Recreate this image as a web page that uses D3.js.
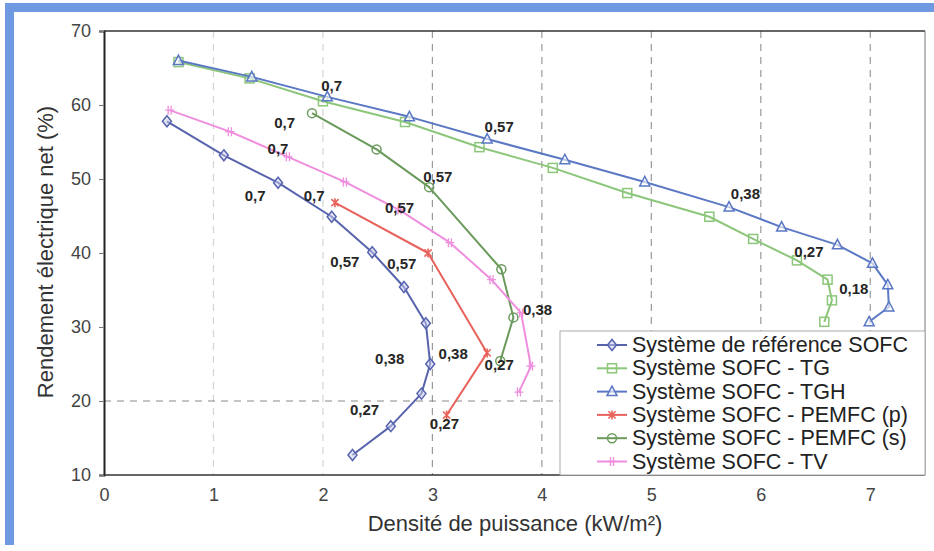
<!DOCTYPE html>
<html><head><meta charset="utf-8">
<script src="https://cdn.jsdelivr.net/npm/d3@7"></script>
<style>
html,body{margin:0;padding:0;background:#fff;}
svg{display:block;font-family:"Liberation Sans",Arial,sans-serif;}
</style></head>
<body>
<svg id="chart" width="934" height="551"></svg>
<script>
// ---- data ----
const xTicks = [0,1,2,3,4,5,6,7];
const yTicks = [10,20,30,40,50,60,70];
const seriesNames = ["Système de référence SOFC","Système SOFC - TG","Système SOFC - TGH","Système SOFC - PEMFC (p)","Système SOFC - PEMFC (s)","Système SOFC - TV"];
const refData = [[0.575,57.8],[1.095,53.2],[1.59,49.5],[2.08,44.9],[2.45,40.1],[2.74,35.4],[2.94,30.5],[2.98,25.0],[2.90,21.0],[2.62,16.6],[2.27,12.7]];
const tgData = [[0.68,65.8],[1.33,63.6],[2.00,60.5],[2.75,57.7],[3.43,54.3],[4.10,51.5],[4.78,48.1],[5.53,44.9],[5.93,41.9],[6.33,39.0],[6.61,36.4],[6.65,33.6],[6.58,30.7]];
const tghData = [[0.68,66.0],[1.35,63.8],[2.04,61.1],[2.79,58.4],[3.50,55.4],[4.21,52.6],[4.94,49.6],[5.71,46.2],[6.19,43.5],[6.70,41.1],[7.02,38.6],[7.16,35.7],[7.17,32.7],[6.99,30.7]];
const pemfcPData = [[2.11,46.8],[2.96,40.0],[3.50,26.5],[3.13,18.1]];
const pemfcSData = [[1.90,58.9],[2.49,54.0],[2.97,48.9],[3.63,37.8],[3.74,31.3],[3.62,25.4]];
const tvData = [[0.60,59.3],[1.15,56.4],[1.68,53.0],[2.20,49.6],[2.70,45.8],[3.16,41.4],[3.54,36.4],[3.81,31.9],[3.90,24.7],[3.79,21.2]];
const annotations = [
  ["0,7",2.08,62.7],["0,7",1.65,57.7],["0,7",1.59,54.15],["0,7",1.38,47.8],["0,7",1.92,47.8],
  ["0,57",3.61,57.1],["0,57",3.05,50.4],["0,57",2.70,46.1],["0,57",2.20,38.8],["0,57",2.72,38.6],
  ["0,38",5.86,48.1],["0,38",2.61,25.8],["0,38",3.19,26.45],["0,38",3.96,32.4],
  ["0,27",6.44,40.2],["0,27",2.38,18.8],["0,27",3.61,24.9],["0,27",3.11,17.0],
  ["0,18",6.85,35.2]
];
const refLineY = 20;

// ---- styling ----
const seriesData = [refData,tgData,tghData,pemfcPData,pemfcSData,tvData];
const colors = ["#5763ad","#8cc67a","#5b78c4","#e8625c","#6a9a5c","#f08ede"];
const markers = ["diamond","square","triangle","asterisk","circle","plus"];

const svg = d3.select("#chart");
const W = 934, H = 551;
const L = 104, R = 925, T = 31, B = 475;

// blue frame
svg.append("rect").attr("x",5).attr("y",3).attr("width",W).attr("height",9).attr("fill","#6f9ae2");
svg.append("rect").attr("x",5).attr("y",3).attr("width",9).attr("height",542).attr("fill","#6f9ae2");

const x = d3.scaleLinear().domain([0,7.5]).range([L,R]);
const y = d3.scaleLinear().domain([10,70]).range([B,T]);

// vertical dashed gridlines
svg.append("g").selectAll("line").data(xTicks.filter(d=>d>0)).join("line")
  .attr("x1",d=>x(d)).attr("x2",d=>x(d)).attr("y1",T).attr("y2",B)
  .attr("stroke",(d)=> d<=2 ? "#d4d4d4" : "#9a9a9a").attr("stroke-width",1.2)
  .attr("stroke-dasharray","7,6");

// horizontal dashed line at 20
svg.append("line").attr("x1",L).attr("x2",R).attr("y1",y(refLineY)).attr("y2",y(refLineY))
  .attr("stroke","#8a8a8a").attr("stroke-width",1.2).attr("stroke-dasharray","7,6");

// axes
const yAxis = d3.axisLeft(y).tickValues(yTicks).tickSize(5).tickPadding(8).tickFormat(d3.format("d"));
const gy = svg.append("g").attr("transform",`translate(${L},0)`).call(yAxis);
gy.select(".domain").attr("stroke","#222").attr("stroke-width",2);
gy.selectAll(".tick line").attr("stroke","#777");
gy.selectAll("text").attr("font-size",18).attr("fill","#444").attr("font-family","Liberation Sans, Arial, sans-serif");

const xAxis = d3.axisBottom(x).tickValues(xTicks).tickSize(0).tickPadding(13).tickFormat(d3.format("d"));
const gx = svg.append("g").attr("transform",`translate(0,${B})`).call(xAxis);
gx.select(".domain").remove();
gx.selectAll("text").attr("font-size",18).attr("fill","#444").attr("font-family","Liberation Sans, Arial, sans-serif");

// plot frame (top, bottom, right)
svg.append("line").attr("x1",L).attr("x2",R).attr("y1",T).attr("y2",T).attr("stroke","#333").attr("stroke-width",1.5);
svg.append("line").attr("x1",L).attr("x2",R).attr("y1",B).attr("y2",B).attr("stroke","#333").attr("stroke-width",1.5);
svg.append("line").attr("x1",R).attr("x2",R).attr("y1",T).attr("y2",B).attr("stroke","#777").attr("stroke-width",1);

// axis titles
svg.append("text").attr("x",515).attr("y",531).attr("text-anchor","middle")
  .attr("font-size",22).attr("fill","#333").text("Densité de puissance (kW/m²)");
svg.append("text").attr("transform","translate(53,252) rotate(-90)").attr("text-anchor","middle")
  .attr("font-size",22).attr("fill","#333").text("Rendement électrique net (%)");

// marker drawing
function drawMarker(g, type, cx, cy, color){
  const s = 4.5;
  if(type==="diamond"){
    g.append("path").attr("d",`M${cx},${cy-s-1}L${cx+s},${cy}L${cx},${cy+s+1}L${cx-s},${cy}Z`)
      .attr("fill","#c9cdf0").attr("fill-opacity",0.5).attr("stroke",color).attr("stroke-width",1.5);
  } else if(type==="square"){
    g.append("rect").attr("x",cx-s).attr("y",cy-s).attr("width",2*s).attr("height",2*s)
      .attr("fill","none").attr("stroke",color).attr("stroke-width",1.5);
  } else if(type==="triangle"){
    g.append("path").attr("d",`M${cx},${cy-s-1}L${cx+s+0.5},${cy+s-0.5}L${cx-s-0.5},${cy+s-0.5}Z`)
      .attr("fill","#fff").attr("fill-opacity",0.6).attr("stroke",color).attr("stroke-width",1.5);
  } else if(type==="circle"){
    g.append("circle").attr("cx",cx).attr("cy",cy).attr("r",s)
      .attr("fill","none").attr("stroke",color).attr("stroke-width",1.5);
  } else if(type==="asterisk"){
    const a = s*0.8;
    g.append("path").attr("d",`M${cx-a},${cy-a}L${cx+a},${cy+a}M${cx-a},${cy+a}L${cx+a},${cy-a}M${cx},${cy-s}L${cx},${cy+s}`)
      .attr("stroke",color).attr("stroke-width",1.6).attr("fill","none");
  } else if(type==="plus"){
    g.append("path").attr("d",`M${cx-s},${cy}L${cx+s},${cy}M${cx-1.5},${cy-s}L${cx-1.5},${cy+s}M${cx+1.5},${cy-s}L${cx+1.5},${cy+s}`)
      .attr("stroke",color).attr("stroke-width",1.3).attr("fill","none");
  }
}

// series
const line = d3.line().x(d=>x(d[0])).y(d=>y(d[1]));
const gs = svg.append("g");
seriesData.forEach((data,i)=>{
  const g = gs.append("g");
  g.append("path").datum(data).attr("d",line).attr("fill","none")
    .attr("stroke",colors[i]).attr("stroke-width",2).attr("stroke-linejoin","round");
  data.forEach(d=>drawMarker(g, markers[i], x(d[0]), y(d[1]), colors[i]));
});

// annotations
svg.append("g").selectAll("text").data(annotations).join("text")
  .attr("x",d=>x(d[1])).attr("y",d=>y(d[2])).attr("text-anchor","middle").attr("dominant-baseline","central")
  .attr("font-size",15).attr("font-weight","bold").attr("fill","#262626").text(d=>d[0]);

// legend
const lgX = 560, lgY = 331;
const lg = svg.append("g");
lg.append("rect").attr("x",lgX).attr("y",lgY).attr("width",R-lgX).attr("height",B-lgY)
  .attr("fill","#fff").attr("stroke","#aaa").attr("stroke-width",1);
seriesNames.forEach((name,i)=>{
  const cy = 345 + i*23.3;
  lg.append("line").attr("x1",597).attr("x2",627).attr("y1",cy).attr("y2",cy)
    .attr("stroke",colors[i]).attr("stroke-width",2);
  drawMarker(lg, markers[i], 612, cy, colors[i]);
  lg.append("text").attr("x",632).attr("y",cy).attr("dominant-baseline","central")
    .attr("font-size",21.5).attr("fill","#222").text(name);
});
</script>
</body></html>
